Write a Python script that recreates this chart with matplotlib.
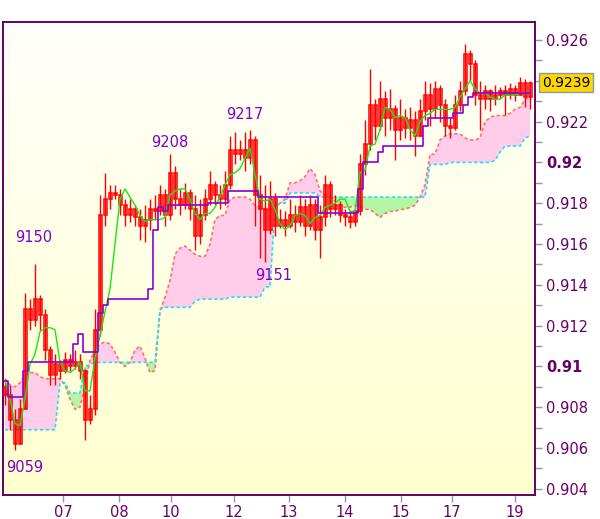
import numpy as np
import matplotlib.pyplot as plt
from matplotlib.colors import LinearSegmentedColormap
import matplotlib.transforms as mtransforms

# all prices in pips (1 pip = 0.0001)
first_open = 9090
close = [9086, 9074, 9062, 9079, 9128, 9123, 9133, 9125, 9108, 9096,
         9101, 9098, 9103, 9100, 9102, 9098, 9074, 9079, 9118, 9174,
         9182, 9185, 9184, 9179, 9174, 9177, 9173, 9169, 9172, 9177,
         9176, 9184, 9174, 9195, 9182, 9179, 9185, 9177, 9164, 9174,
         9182, 9189, 9184, 9182, 9189, 9206, 9204, 9206, 9202, 9211,
         9184, 9177, 9167, 9182, 9169, 9172, 9169, 9174, 9171, 9178,
         9169, 9179, 9167, 9173, 9189, 9177, 9179, 9174, 9173, 9171,
         9176, 9199, 9209, 9228, 9218, 9231, 9222, 9226, 9216, 9222,
         9217, 9221, 9213, 9225, 9233, 9226, 9236, 9228, 9218, 9217,
         9228, 9235, 9253, 9248, 9233, 9231, 9235, 9231, 9233, 9235,
         9233, 9236, 9233, 9239, 9232, 9239]
high = [9094, 9091, 9079, 9084, 9136, 9133, 9150, 9135, 9128, 9110,
        9106, 9103, 9107, 9106, 9108, 9106, 9099, 9086, 9128, 9184,
        9195, 9189, 9189, 9187, 9182, 9182, 9179, 9177, 9179, 9182,
        9184, 9189, 9187, 9204, 9198, 9187, 9190, 9187, 9184, 9182,
        9187, 9196, 9191, 9189, 9196, 9213, 9215, 9211, 9215, 9216,
        9213, 9194, 9189, 9191, 9185, 9177, 9176, 9182, 9179, 9184,
        9182, 9184, 9182, 9179, 9194, 9191, 9184, 9181, 9177, 9176,
        9179, 9204, 9221, 9246, 9231, 9240, 9235, 9236, 9228, 9231,
        9226, 9227, 9225, 9231, 9240, 9239, 9240, 9238, 9231, 9222,
        9233, 9240, 9258, 9255, 9250, 9240, 9238, 9236, 9238, 9237,
        9238, 9239, 9238, 9242, 9241, 9240]
low = [9081, 9069, 9059, 9062, 9079, 9118, 9120, 9118, 9103, 9091,
       9091, 9094, 9097, 9098, 9099, 9094, 9064, 9072, 9076, 9115,
       9169, 9177, 9182, 9174, 9169, 9171, 9169, 9162, 9161, 9167,
       9172, 9174, 9169, 9172, 9177, 9174, 9177, 9172, 9157, 9160,
       9172, 9179, 9179, 9177, 9179, 9187, 9199, 9201, 9196, 9199,
       9169, 9153, 9151, 9165, 9164, 9168, 9164, 9168, 9166, 9169,
       9164, 9167, 9162, 9153, 9169, 9173, 9174, 9171, 9169, 9168,
       9169, 9174, 9194, 9206, 9211, 9216, 9213, 9216, 9201, 9211,
       9212, 9211, 9203, 9213, 9221, 9218, 9222, 9220, 9213, 9212,
       9216, 9225, 9233, 9240, 9228, 9216, 9226, 9225, 9228, 9231,
       9223, 9231, 9230, 9233, 9227, 9226]
tenkan = [9093, 9084, 9072, 9071, 9084, 9101, 9106, 9117, 9119, 9119,
          9118, 9102, 9098, 9097, 9099, 9102, 9088, 9088, 9104, 9115,
          9127, 9138, 9160, 9182, 9187, 9183, 9179, 9174, 9171, 9172,
          9172, 9172, 9173, 9184, 9186, 9187, 9187, 9182, 9175, 9172,
          9175, 9175, 9178, 9183, 9189, 9194, 9195, 9197, 9202, 9207,
          9194, 9182, 9181, 9182, 9177, 9170, 9167, 9169, 9174, 9175,
          9174, 9170, 9173, 9174, 9178, 9179, 9180, 9182, 9182, 9176,
          9176, 9195, 9196, 9208, 9209, 9216, 9227, 9226, 9222, 9223,
          9222, 9216, 9213, 9220, 9223, 9224, 9226, 9226, 9226, 9226,
          9227, 9232, 9236, 9240, 9236, 9234, 9234, 9232, 9231, 9231,
          9233, 9233, 9233, 9234, 9234, 9234]
kijun = [9093, 9085, 9085, 9085, 9098, 9102, 9102, 9102, 9102, 9102,
         9102, 9102, 9102, 9102, 9111, 9116, 9107, 9107, 9107, 9126,
         9130, 9133, 9133, 9133, 9133, 9133, 9133, 9133, 9133, 9138,
         9167, 9178, 9176, 9179, 9179, 9179, 9179, 9179, 9179, 9179,
         9179, 9180, 9180, 9180, 9180, 9186, 9186, 9186, 9186, 9186,
         9186, 9183, 9183, 9183, 9183, 9183, 9183, 9183, 9183, 9183,
         9183, 9183, 9183, 9175, 9175, 9175, 9175, 9175, 9175, 9175,
         9175, 9187, 9200, 9200, 9200, 9205, 9208, 9208, 9208, 9208,
         9208, 9208, 9208, 9208, 9218, 9222, 9222, 9222, 9222, 9222,
         9224, 9224, 9228, 9232, 9234, 9234, 9234, 9234, 9234, 9234,
         9234, 9234, 9234, 9234, 9234, 9234]
span_a = [9094, 9091, 9090, 9092, 9096, 9097, 9097, 9095, 9094, 9094,
          9094, 9094, 9091, 9084, 9079, 9080, 9091, 9103, 9108, 9111,
          9112, 9111, 9107, 9102, 9100, 9102, 9108, 9110, 9104, 9097,
          9098, 9127, 9134, 9142, 9155, 9158, 9159, 9157, 9155, 9154,
          9154, 9160, 9172, 9174, 9174, 9182, 9183, 9183, 9183, 9182,
          9179, 9178, 9177, 9177, 9179, 9180, 9182, 9190, 9190, 9191,
          9193, 9197, 9194, 9186, 9184, 9183, 9181, 9179, 9178, 9178,
          9179, 9178, 9177, 9177, 9175, 9173, 9175, 9176, 9176, 9177,
          9177, 9178, 9179, 9183, 9189, 9204, 9204, 9211, 9213, 9214,
          9214, 9214, 9212, 9211, 9211, 9212, 9220, 9222, 9223, 9223,
          9223, 9224, 9226, 9227, 9231, 9232]
span_b = [9069, 9069, 9069, 9069, 9069, 9069, 9069, 9069, 9069, 9069,
          9069, 9092, 9092, 9087, 9087, 9087, 9100, 9101, 9102, 9102,
          9102, 9102, 9102, 9102, 9102, 9102, 9102, 9102, 9102, 9102,
          9102, 9128, 9129, 9129, 9129, 9129, 9129, 9129, 9132, 9133,
          9133, 9133, 9133, 9133, 9133, 9134, 9134, 9134, 9134, 9134,
          9134, 9134, 9139, 9139, 9178, 9180, 9180, 9185, 9185, 9185,
          9185, 9185, 9185, 9183, 9183, 9183, 9183, 9183, 9183, 9183,
          9183, 9183, 9183, 9183, 9183, 9183, 9183, 9183, 9183, 9183,
          9183, 9183, 9183, 9183, 9183, 9199, 9199, 9199, 9199, 9200,
          9200, 9200, 9200, 9200, 9200, 9200, 9200, 9200, 9201, 9205,
          9208, 9208, 9208, 9208, 9212, 9213]

day_labels = ["07", "08", "10", "12", "13", "14", "15", "17", "19"]
day_pos = [11.6, 22.8, 33.2, 45.8, 56.8, 68, 79.2, 89.4, 102]

# marked extremes: (bar, pips, text offset in pixels)
marks = [(2, 9059, (10, -17)), (6, 9150, (-1, 27)), (33, 9208, (0, 4)),
         (46, 9217, (10, 13)), (52, 9151, (9, -13))]

P = 1e4
x = np.arange(len(close))
c = np.array(close) / P
o = np.r_[first_open, close[:-1]] / P
h = np.array(high) / P
l = np.array(low) / P
a = np.array(span_a) / P
b = np.array(span_b) / P

fig = plt.figure(figsize=(6, 5.19), dpi=100)
ax = fig.add_axes([0.005, 0.0462, 0.8867, 0.9114])

xlim = (-0.4, 106)
ylim = (0.9037, 0.92688)

# soft yellow background
cmap = LinearSegmentedColormap.from_list("bg", ["#ffffcf", "#fffffb"])
ax.imshow(np.linspace(0, 1, 256).reshape(-1, 1), cmap=cmap, origin="lower",
          extent=[xlim[0], xlim[1], ylim[0], ylim[1]], aspect="auto", zorder=0)

# cloud
ax.fill_between(x, a, b, where=a >= b, interpolate=True, color="#ffccea", lw=0, zorder=1)
ax.fill_between(x, a, b, where=a < b, interpolate=True, color="#b4f5a6", lw=0, zorder=1)
ax.plot(x, a, color="#ff6f6f", lw=1.2, ls=(0, (2, 1.5)), zorder=2)
ax.plot(x, b, color="#1fe0f0", lw=1.2, ls=(0, (2, 1.5)), zorder=2)

# candles
ax.vlines(x, l, h, color="#ff0000", lw=1.0, zorder=3)
body = np.maximum(np.abs(c - o), 0.00004)
ax.bar(x, body, bottom=np.minimum(o, c), width=0.6, fill=False,
       edgecolor="#ff0000", lw=1.1, zorder=3)

# tenkan / kijun
ax.plot(x, np.array(tenkan) / P, color="#19e619", lw=1.0, zorder=4)
ax.plot(x, np.array(kijun) / P, color="#8c00d2", lw=1.2, drawstyle="steps-mid", zorder=4)

for i, v, (dx, dy) in marks:
    ax.annotate(str(v), xy=(i, v / P), xytext=(dx, dy), textcoords="offset pixels",
                ha="center", va="center", color="#7d00cc", fontsize=10.5, zorder=5)

ax.set_xlim(*xlim)
ax.set_ylim(*ylim)

for s in ax.spines.values():
    s.set_color("#660066")
    s.set_linewidth(1.4)

ax.yaxis.tick_right()
yt = np.arange(9040, 9261, 20)
ylabs = []
for v in yt:
    if v == 9240:
        ylabs.append("")
    elif v % 100 == 0:
        ylabs.append(f"{v / P:.2f}")
    else:
        ylabs.append(f"{v / P:.3f}")
ax.set_yticks(yt / P)
ax.set_yticklabels(ylabs)
ax.set_yticks(np.arange(9050, 9261, 20) / P, minor=True)
for t, v in zip(ax.get_yticklabels(), yt):
    if v % 100 == 0:
        t.set_fontweight("bold")
        t.set_fontsize(12)
ax.tick_params(axis="y", which="both", colors="#8899aa", length=5, width=1,
               labelcolor="#660066", labelsize=10.5, pad=3)

ax.set_xticks(day_pos)
ax.set_xticklabels(day_labels)
ax.tick_params(axis="x", colors="#8899aa", length=5, width=1,
               labelcolor="#660066", labelsize=10.5, pad=2)

# last price tag
trans = mtransforms.blended_transform_factory(ax.transAxes, ax.transData)
ax.text(1.013, c[-1], f"{c[-1]:.4f}", transform=trans, ha="left", va="center",
        fontsize=10, color="black", zorder=6, clip_on=False,
        bbox=dict(boxstyle="square,pad=0.18", fc="#ffd700", ec="#8899aa", lw=1))

fig.savefig("out.png", dpi=100)
